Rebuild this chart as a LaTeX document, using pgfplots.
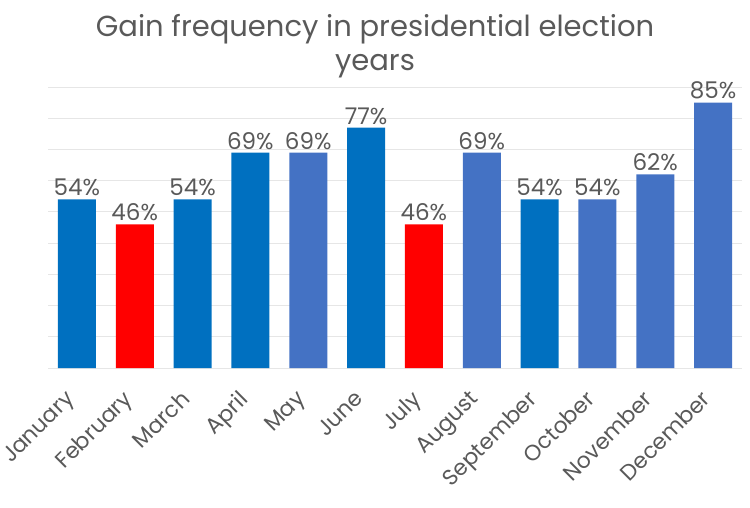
\documentclass[border=0pt]{standalone}
\usepackage{pgfplots}
\pgfplotsset{compat=1.18}
\usepackage{fontspec}
\setmainfont{Poppins}
\definecolor{txt}{HTML}{595959}
\definecolor{grd}{HTML}{E6E6E6}
\definecolor{bluea}{HTML}{0070C0}
\definecolor{blueb}{HTML}{4472C4}
\definecolor{redc}{HTML}{FF0000}
\begin{document}
\begin{tikzpicture}
\path (0,0) rectangle (750bp,508bp);
\node[text=txt, font=\fontsize{29bp}{34bp}\selectfont, align=center] at (375bp,462bp)
  {Gain frequency in presidential election\\years};
\begin{axis}[
    at={(48bp,140bp)}, anchor=south west,
    scale only axis,
    width=694bp, height=281bp,
    xmin=-0.5, xmax=11.5,
    ymin=0, ymax=90,
    ytick={0,10,...,90}, yticklabels={},
    ymajorgrids=true,
    grid style={grd, line width=0.8pt},
    axis lines*=left,
    y axis line style={draw=none},
    x axis line style={grd, line width=0.8pt, -},
    xtick={0,...,11},
    xticklabels={January,February,March,April,May,June,July,August,September,October,November,December},
    major tick length=0pt,
    xticklabel style={xshift=-13bp, yshift=-21bp, rotate=45, anchor=north east, text=txt,
        font=\fontsize{22bp}{24bp}\selectfont, inner sep=0pt},
    /pgf/number format/assume math mode=true,
    ybar, bar width=38bp, bar shift=0pt,
    nodes near coords={\pgfmathprintnumber{\pgfplotspointmeta}\%},
    nodes near coords style={text=txt, font=\fontsize{23bp}{26bp}\selectfont, inner sep=3pt, anchor=south},
    clip=false,
]
\addplot[fill=bluea, draw=none] coordinates {(0,54) (2,54) (3,69) (5,77) (8,54)};
\addplot[fill=blueb, draw=none] coordinates {(4,69) (7,69) (9,54) (10,62) (11,85)};
\addplot[fill=redc, draw=none] coordinates {(1,46) (6,46)};
\end{axis}
\end{tikzpicture}
\end{document}
